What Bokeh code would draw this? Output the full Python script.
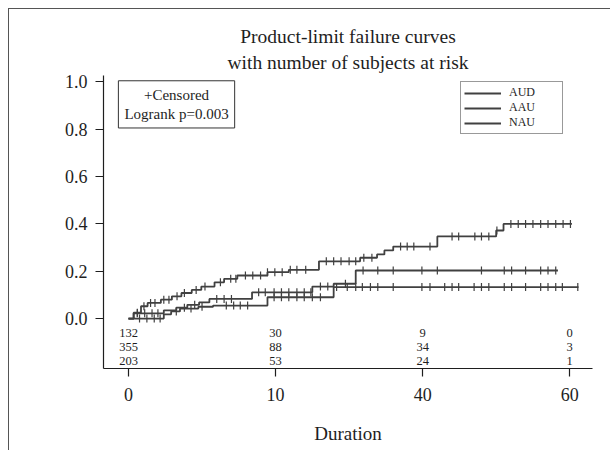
import numpy as np
from bokeh.plotting import figure
from bokeh.models import (Range1d, FixedTicker, Title, Label, Legend, LegendItem,
                          NumeralTickFormatter)
from bokeh.core.properties import value
from bokeh.embed import file_html
from bokeh.resources import INLINE

# ---------------- data ----------------
groups = ["AUD", "AAU", "NAU"]

# step curves: event times and failure probability after the event
aud_t = [0, 0.7, 1.7, 2.6, 4.4, 5.9, 7.2, 8.6, 9.9, 11.7, 13.0, 14.8, 18.9, 21.8,
         25.9, 31.5, 33.8, 34.8, 36.0, 42.0, 50.0, 51.0, 60.3]
aud_p = [0, 0.025, 0.052, 0.066, 0.080, 0.094, 0.108, 0.121, 0.135, 0.153, 0.168,
         0.182, 0.196, 0.206, 0.242, 0.257, 0.271, 0.288, 0.304, 0.347, 0.372, 0.400, 0.400]

aau_t = [0, 4.8, 5.8, 7.0, 9.5, 11.5, 18.9, 27.9, 61.2]
aau_p = [0, 0.018, 0.030, 0.042, 0.050, 0.055, 0.090, 0.133, 0.133]

nau_t = [0, 0.7, 4.8, 6.5, 8.0, 9.6, 11.0, 16.8, 25.0, 27.9, 30.9, 58.4]
nau_p = [0, 0.022, 0.035, 0.046, 0.058, 0.068, 0.083, 0.111, 0.135, 0.147, 0.203, 0.203]

# censoring times
aud_c = [1.2, 2.1, 3.0, 3.6, 4.8, 5.5, 6.6, 7.6, 9.2, 10.4, 12.5, 13.9, 14.6, 15.9,
         16.9, 17.96, 18.9, 19.9, 20.9, 22.0, 22.9, 24.1, 26.9, 27.9, 28.9, 30.0, 30.9,
         32.0, 33.1, 37.0, 37.9, 38.8, 41.0, 44.0, 44.9, 47.1, 48.0, 49.0, 50.1, 52.0,
         53.0, 54.0, 55.0, 56.05, 57.05, 58.1, 59.1, 60.1]
aau_c = [1.5, 2.5, 3.5, 4.3, 6.5, 8.5, 10.0, 13.3, 14.3, 15.2, 16.2, 19.8, 20.8, 21.8,
         22.9, 23.9, 25.0, 26.1, 28.3, 29.75, 30.9, 31.8, 32.9, 33.9, 36.0, 39.9, 41.0,
         43.0, 44.0, 44.9, 47.0, 48.0, 49.0, 51.1, 52.1, 54.0, 56.05, 57.05, 58.1, 59.0, 61.1]
nau_c = [1.2, 2.2, 3.2, 4.0, 7.6, 9.0, 12.0, 13.0, 14.0, 17.7, 18.6, 19.8, 20.8, 21.8,
         22.9, 23.9, 24.8, 26.1, 27.1, 29.5, 31.9, 33.9, 36.0, 39.9, 42.0, 48.0, 51.1,
         52.1, 54.0, 56.05, 57.05, 58.1]

# number at risk
risk_times = [0, 20, 40, 60]
risk_aud = [132, 30, 9, 0]
risk_aau = [355, 88, 34, 3]
risk_nau = [203, 53, 24, 1]

x_ticks = [0, 20, 40, 60]
x_tick_labels = ["0", "10", "40", "60"]
y_ticks = [0.0, 0.2, 0.4, 0.6, 0.8, 1.0]

# ---------------- styles ----------------
FONT = "Liberation Serif"
LINE = "#404040"
INK = "#1e1e1e"

p = figure(width=602, height=442, output_backend="svg", toolbar_location=None,
           x_range=Range1d(-3.4, 63.1), y_range=Range1d(-0.211, 1.027),
           min_border_left=94, min_border_right=19, min_border_top=66,
           min_border_bottom=83, title=None)
p.styles = {"margin-left": "8px", "margin-top": "8px",
            "border-top": "1px solid #555", "border-left": "1px solid #555"}
p.outline_line_color = None
p.xgrid.visible = False
p.ygrid.visible = False
p.background_fill_color = "white"
p.border_fill_color = "white"

# titles (first added sits closest to the frame)
p.add_layout(Title(text="with number of subjects at risk", align="center",
                   text_font=FONT, text_font_size="19.5px", text_font_style="normal",
                   text_color=INK, standoff=5), "above")
p.add_layout(Title(text="Product-limit failure curves", align="center",
                   text_font=FONT, text_font_size="19.5px", text_font_style="normal",
                   text_color=INK, standoff=2), "above")

# axes
for ax in (p.xaxis[0], p.yaxis[0]):
    ax.axis_line_color = INK
    ax.axis_line_width = 1.2
    ax.major_tick_line_color = INK
    ax.major_tick_line_width = 1.2
    ax.major_tick_out = 8
    ax.major_tick_in = 0
    ax.minor_tick_line_color = None
    ax.major_label_text_font = FONT
    ax.major_label_text_font_size = "18px"
    ax.major_label_text_color = INK

p.xaxis.ticker = FixedTicker(ticks=x_ticks)
p.xaxis.major_label_overrides = {t: l for t, l in zip(x_ticks, x_tick_labels)}
p.xaxis.major_label_standoff = 11
p.xaxis.axis_label = "Duration"
p.xaxis.axis_label_text_font = FONT
p.xaxis.axis_label_text_font_size = "19px"
p.xaxis.axis_label_text_font_style = "normal"
p.xaxis.axis_label_text_color = INK
p.xaxis.axis_label_standoff = 19

p.yaxis.ticker = FixedTicker(ticks=y_ticks)
p.yaxis.formatter = NumeralTickFormatter(format="0.0")
p.yaxis.major_label_standoff = 8

# y axis title centred on the 0..1 probability range
p.add_layout(Label(x=-12.9, y=0.5, text="Failure probability", angle=np.pi / 2,
                   text_align="center", text_baseline="middle", text_font=FONT,
                   text_font_size="19px", text_color=INK))

# curves
curves = [(aud_t, aud_p, aud_c), (aau_t, aau_p, aau_c), (nau_t, nau_p, nau_c)]
items = []
for name, (t, pr, c) in zip(groups, curves):
    r = p.step(t, pr, mode="after", line_color=LINE, line_width=1.8)
    t_arr = np.asarray(t)
    idx = np.searchsorted(t_arr, np.asarray(c), side="right") - 1
    cy = np.asarray(pr)[idx]
    p.scatter(c, cy, marker="dash", angle=np.pi / 2, size=8, line_color=LINE,
              line_width=1.2)
    items.append(LegendItem(label=name, renderers=[r]))

legend = Legend(items=items, location=(357, 234), orientation="vertical",
                label_text_font=FONT, label_text_font_size="12px",
                label_text_line_height=1.0,
                label_text_color=INK, glyph_width=37, glyph_height=12,
                label_height=12, label_standoff=8, label_width=50, spacing=0,
                padding=3, margin=0, border_line_color="#333",
                border_line_width=1, background_fill_alpha=1.0)
p.add_layout(legend)

# censored / logrank box
p.add_layout(Label(x=6.53, y=0.905, text="+Censored\nLogrank p=0.003",
                   text_align="center", text_baseline="middle", text_font=FONT,
                   text_font_size="15px", text_color=INK, border_line_color="#333",
                   border_line_width=1, background_fill_color="white", padding=6))

# number at risk table
rx, ry, rt = [], [], []
for i, row in enumerate([risk_aud, risk_aau, risk_nau]):
    for t, n in zip(risk_times, row):
        rx.append(t)
        ry.append(-0.063 - 0.058 * i)
        rt.append(str(n))
p.text(x=rx, y=ry, text=rt, text_align="center", text_baseline="middle",
       text_font=value(FONT), text_font_size="12.5px", text_color=INK)

open("out.html", "w").write(file_html(p, INLINE))
